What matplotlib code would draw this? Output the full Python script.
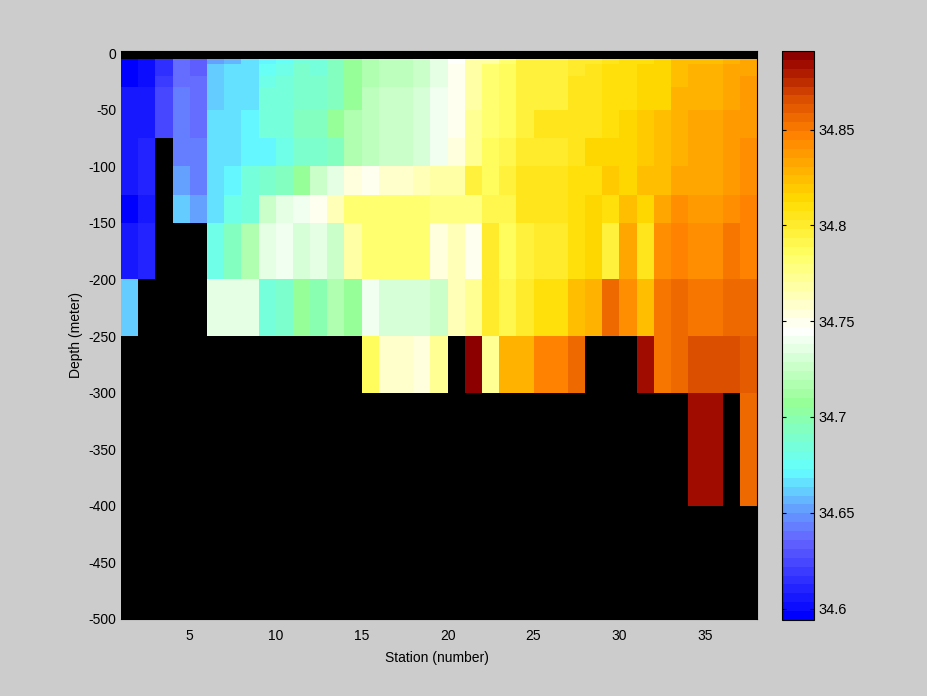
import numpy as np
import matplotlib
matplotlib.use("Agg")
import matplotlib.pyplot as plt
from matplotlib.colors import LinearSegmentedColormap, Normalize

n = np.nan
stations = list(range(1, 39))
depth_edges = [-5, -10, -20, -30, -50, -75, -100, -125, -150, -200, -250, -300, -400]
vmin, vmax = 34.594, 34.891

# salinity minus 34, one list per station interval, top row first
s01 = [.598,.598,.598,.604,.604,.606,.606,.598,.606,.662,n,n]
s02 = [.603,.603,.603,.606,.606,.610,.610,.604,.612,n,n,n]
s03 = [.615,.615,.620,.622,.622,n,n,n,n,n,n,n]
s04 = [.640,.640,.640,.644,.644,.644,.650,.660,n,n,n,n]
s05 = [.634,.634,.640,.640,.640,.644,.644,.650,n,n,n,n]
s06 = [.654,.660,.660,.660,.664,.664,.668,.668,.681,.734,n,n]
s07 = [.658,.664,.664,.664,.668,.668,.671,.680,.694,.734,n,n]
s08 = [.664,.664,.668,.668,.671,.671,.683,.685,.716,.734,n,n]
s09 = [.671,.677,.680,.685,.685,.671,.691,.725,.734,.683,n,n]
s10 = [.677,.680,.684,.685,.685,.678,.694,.734,.740,.687,n,n]
s11 = [.683,.687,.687,.687,.696,.687,.710,.740,.730,.707,n,n]
s12 = [.684,.685,.691,.691,.696,.687,.724,.748,.734,.698,n,n]
s13 = [.696,.696,.696,.695,.707,.696,.735,.762,.726,.716,n,n]
s14 = [.710,.710,.710,.710,.716,.716,.753,.780,.769,.707,n,n]
s15 = [.716,.716,.718,.722,.722,.722,.750,.780,.784,.740,.787,n]
s16 = [.722,.722,.722,.726,.726,.726,.758,.780,.780,.729,.758,n]
s17 = [.722,.722,.722,.726,.726,.726,.758,.780,.780,.729,.758,n]
s18 = [.724,.724,.724,.729,.729,.729,.764,.780,.780,.729,.753,n]
s19 = [.734,.734,.734,.740,.740,.740,.769,.777,.756,.724,.772,n]
s20 = [.743,.748,.748,.748,.748,.753,.769,.777,.764,.764,n,n]
s21 = [.769,.769,.769,.769,.772,.772,.795,.777,.748,.771,.889,n]
s22 = [.769,.780,.780,.780,.780,.787,.787,.791,.800,.800,.772,n]
s23 = [.784,.788,.788,.788,.788,.791,.798,.791,.788,.791,.827,n]
s24 = [.795,.797,.797,.797,.797,.800,.805,.805,.796,.802,.827,n]
s25 = [.798,.798,.798,.798,.804,.802,.806,.805,.800,.810,.845,n]
s26 = [.798,.798,.798,.798,.804,.802,.806,.805,.800,.810,.845,n]
s27 = [.800,.800,.805,.805,.805,.805,.809,.811,.811,.823,.855,n]
s28 = [.800,.806,.806,.806,.806,.814,.811,.814,.814,.827,n,n]
s29 = [.805,.808,.808,.808,.808,.814,.818,.808,.795,.855,n,n]
s30 = [.811,.811,.811,.811,.814,.814,.813,.825,.832,.841,n,n]
s31 = [.811,.813,.813,.813,.818,.818,.823,.813,.805,.823,.884,n]
s32 = [.813,.816,.816,.816,.823,.823,.823,.832,.841,.850,.850,n]
s33 = [.823,.823,.823,.829,.829,.829,.834,.841,.845,.855,.855,n]
s34 = [.823,.829,.829,.829,.834,.834,.834,.836,.841,.850,.866,.884]
s35 = [.823,.829,.829,.829,.834,.834,.834,.836,.841,.850,.866,.884]
s36 = [.827,.832,.832,.832,.838,.838,.838,.841,.850,.855,.866,n]
s37 = [.832,.832,.838,.838,.838,.841,.841,.845,.845,.855,.861,.855]

columns = [s01,s02,s03,s04,s05,s06,s07,s08,s09,s10,s11,s12,s13,s14,s15,s16,s17,s18,s19,
           s20,s21,s22,s23,s24,s25,s26,s27,s28,s29,s30,s31,s32,s33,s34,s35,s36,s37]
salinity = 34 + np.array(columns, dtype=float).T

anchors = [(0.00,(0,0,255)),(0.135,(100,100,255)),(0.19,(100,160,255)),(0.26,(100,255,255)),
           (0.38,(150,255,150)),(0.51,(255,255,255)),(0.645,(255,255,100)),(0.74,(255,220,0)),
           (0.86,(255,128,0)),(0.92,(220,80,0)),(0.98,(165,15,0)),(1.00,(140,0,0))]
cmap = LinearSegmentedColormap.from_list("sal", [(p, tuple(c/255 for c in rgb)) for p, rgb in anchors], N=64)

plt.rcParams['font.family'] = ['Liberation Sans', 'DejaVu Sans']
plt.rcParams['font.size'] = 10
plt.rcParams['axes.unicode_minus'] = False
W, H = 928, 696
fig = plt.figure(figsize=(W/100, H/100), dpi=100, facecolor='#cccccc')
ax = fig.add_axes([121/W, 1-619/H, (757-121)/W, (619-51)/H], facecolor='black')
mesh = ax.pcolormesh(stations, depth_edges, np.ma.masked_invalid(salinity), cmap=cmap,
                     norm=Normalize(vmin, vmax), shading='flat')
ax.set_xlim(1, 38)
ax.set_ylim(-500, 1.8)
ax.set_xticks(range(5, 36, 5))
ax.set_yticks(range(-500, 1, 50))
ax.tick_params(axis='x', length=0, pad=7, labelcolor='black')
ax.tick_params(axis='y', length=0, pad=3.5, labelcolor='black')
ax.set_xlabel('Station (number)', labelpad=6, x=0.497)
ax.set_ylabel('Depth (meter)', labelpad=4)
ax.spines['left'].set_visible(False)
for s in ('top', 'right', 'bottom'):
    ax.spines[s].set_linewidth(0.8)

cax = fig.add_axes([782/W, 1-620/H, 32/W, 569/H])
cb = fig.colorbar(mesh, cax=cax)
cb.set_ticks([34.6, 34.65, 34.7, 34.75, 34.8, 34.85])
cb.set_ticklabels(['34.6', '34.65', '34.7', '34.75', '34.8', '34.85'])
cax.tick_params(direction='in', length=3, width=0.8, left=True, right=True, pad=3, labelsize=10.5)
cb.outline.set_linewidth(0.8)

fig.savefig('out.png', dpi=100, facecolor=fig.get_facecolor())
